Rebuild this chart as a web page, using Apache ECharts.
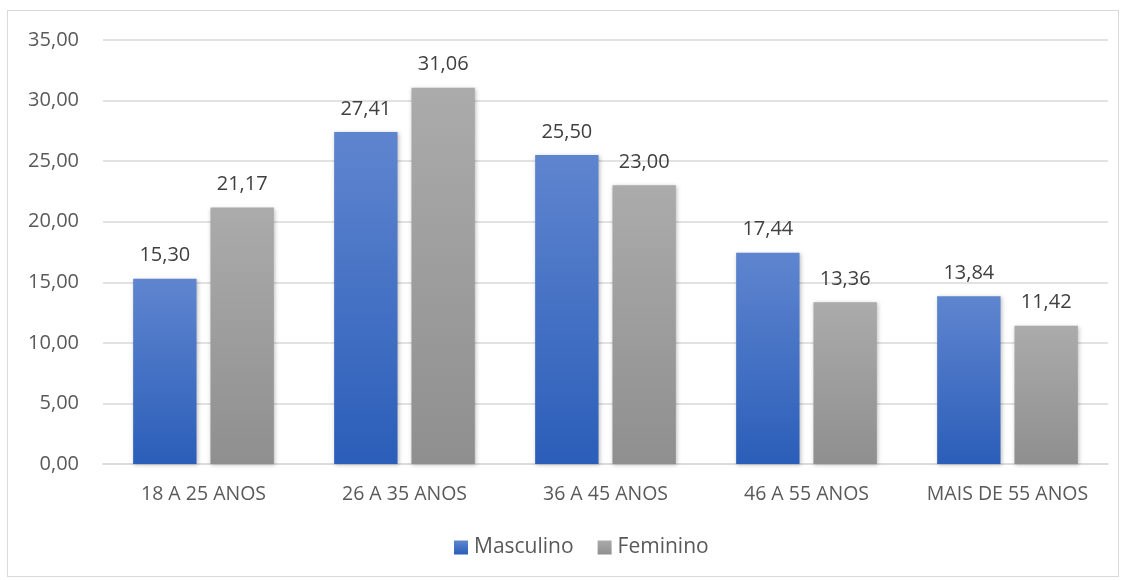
<!DOCTYPE html>
<html>
<head>
<meta charset="utf-8">
<script src="https://cdn.jsdelivr.net/npm/echarts@6/dist/echarts.min.js"></script>
<style>
  html, body { margin: 0; padding: 0; background: #fff; }
  #frame { position: absolute; left: 7px; top: 10px; width: 1112px; height: 567px; border: 1px solid #d9d9d9; box-sizing: border-box; }
  #chart { position: absolute; left: 0; top: 0; width: 1123px; height: 580px; }
</style>
</head>
<body>
<div id="frame"></div>
<div id="chart"></div>
<script>
// Age groups and percentage shares by sex
const categories = ['18 A 25 ANOS', '26 A 35 ANOS', '36 A 45 ANOS', '46 A 55 ANOS', 'MAIS DE 55 ANOS'];
const masculino = [15.30, 27.41, 25.50, 17.44, 13.84];
const feminino = [21.17, 31.06, 23.00, 13.36, 11.42];
const seriesNames = ['Masculino', 'Feminino'];

const FONT = '"Open Sans", "Noto Sans", sans-serif';
const fmt = v => v.toFixed(2).replace('.', ',');

function grad(top, bottom) {
  return new echarts.graphic.LinearGradient(0, 0, 0, 1, [
    { offset: 0, color: top },
    { offset: 1, color: bottom }
  ]);
}

const chart = echarts.init(document.getElementById('chart'), null, { renderer: 'canvas' });

const barStyle = (top, bottom) => ({
  color: grad(top, bottom),
  shadowColor: 'rgba(0,0,0,0.25)',
  shadowBlur: 4,
  shadowOffsetX: 1,
  shadowOffsetY: 1
});

const valueLabel = {
  show: true,
  position: 'top',
  distance: 13,
  fontFamily: FONT,
  fontSize: 20,
  color: '#404040',
  formatter: p => fmt(p.value)
};

chart.setOption({
  animation: false,
  grid: { left: 103, right: 15, top: 40, bottom: 116 },
  legend: {
    bottom: 17,
    left: 449,
    itemWidth: 14,
    itemHeight: 14,
    itemGap: 24,
    icon: 'rect',
    textStyle: { fontFamily: FONT, fontSize: 21, color: '#595959', padding: [0, 0, 0, 1] },
    data: seriesNames
  },
  xAxis: {
    type: 'category',
    data: categories,
    axisLine: { lineStyle: { color: '#d9d9d9', width: 1.5 } },
    axisTick: { show: false },
    axisLabel: { fontFamily: FONT, fontSize: 19.5, color: '#595959', margin: 20, interval: 0, hideOverlap: false }
  },
  yAxis: {
    type: 'value',
    min: 0,
    max: 35,
    interval: 5,
    axisLine: { show: false },
    axisTick: { show: false },
    splitLine: { lineStyle: { color: '#d9d9d9', width: 1.5 } },
    axisLabel: { fontFamily: FONT, fontSize: 20, color: '#595959', margin: 24, formatter: v => fmt(v) }
  },
  series: [
    {
      name: seriesNames[0],
      type: 'bar',
      data: masculino,
      barGap: '22%',
      barCategoryGap: '30%',
      itemStyle: barStyle('#5f85cf', '#2b5eb9'),
      label: valueLabel
    },
    {
      name: seriesNames[1],
      type: 'bar',
      data: feminino,
      itemStyle: barStyle('#ababab', '#8f8f8f'),
      label: valueLabel
    }
  ]
});
</script>
</body>
</html>
